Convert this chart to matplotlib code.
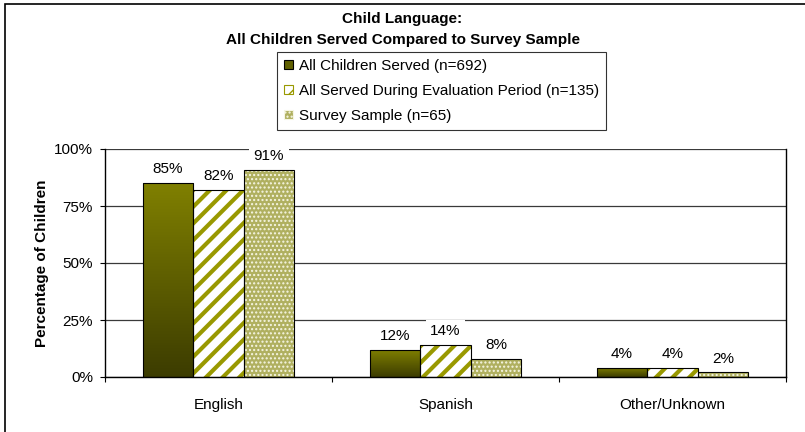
import matplotlib.pyplot as plt
import numpy as np
from matplotlib.colors import LinearSegmentedColormap
from matplotlib.patches import Rectangle

plt.rcParams['font.family'] = ['Liberation Sans', 'DejaVu Sans']
plt.rcParams['hatch.linewidth'] = 3.0

categories = ['English', 'Spanish', 'Other/Unknown']
all_served = [85, 12, 4]
eval_period = [82, 14, 4]
survey = [91, 8, 2]
series_names = ['All Children Served (n=692)',
                'All Served During Evaluation Period (n=135)',
                'Survey Sample (n=65)']

FS = 11
fig = plt.figure(figsize=(8.05, 4.32), dpi=100)
ax = fig.add_axes([105 / 805, 1 - 377 / 432, 681 / 805, 228 / 432])

x = np.arange(len(categories))
w = 0.222
olive_grad = LinearSegmentedColormap.from_list('olive', ['#3c3c00', '#808000'])

# solid series with a vertical dark-to-olive gradient
bars1 = ax.bar(x - w, all_served, w, color='none', edgecolor='black', lw=0.8, zorder=3)
grad = np.linspace(0, 1, 256).reshape(-1, 1)
for b in bars1:
    bx, by = b.get_x(), b.get_y()
    im = ax.imshow(grad, cmap=olive_grad, origin='lower', aspect='auto',
                   extent=[bx, bx + b.get_width(), by, by + b.get_height()], zorder=2)
    im.set_clip_path(b)

# striped series
ax.bar(x, eval_period, w, color='white', edgecolor='#999900', hatch='//', lw=0, zorder=2)
ax.bar(x, eval_period, w, color='none', edgecolor='black', lw=0.8, zorder=3)

# dotted series
plt.rcParams['hatch.linewidth'] = 1.0
ax.bar(x + w, survey, w, color='#b0b060', edgecolor='#f6f6e4', hatch='....', lw=0, zorder=2)
ax.bar(x + w, survey, w, color='none', edgecolor='black', lw=0.8, zorder=3)

for offs, vals in zip([-w, 0, w], [all_served, eval_period, survey]):
    for xi, v in zip(x, vals):
        ax.annotate(f'{v}%', (xi + offs, v), xytext=(0, 10), textcoords='offset points',
                    ha='center', va='center', fontsize=FS, zorder=5,
                    bbox=dict(boxstyle='square,pad=0.3', fc='white', ec='none'))

ax.set_xlim(-0.5, 2.5)
ax.set_ylim(0, 100)
ax.set_yticks([0, 25, 50, 75, 100])
ax.set_yticklabels([f'{t}%' for t in [0, 25, 50, 75, 100]], fontsize=FS)
ax.yaxis.grid(True, color='#3a3a3a', lw=0.9, zorder=0)
ax.set_axisbelow(True)

ax.set_xticks(x)
ax.set_xticklabels(categories, fontsize=FS)
ax.tick_params(axis='x', length=0, pad=15)
ax.set_xticks([-0.5, 0.5, 1.5, 2.5], minor=True)
ax.tick_params(axis='x', which='minor', length=3.6, direction='out', width=0.8)
ax.tick_params(axis='y', length=3.6, direction='out', width=0.8, pad=5)

ax.spines['top'].set_visible(False)
for s in ['right', 'left', 'bottom']:
    ax.spines[s].set_linewidth(1.0)

ax.set_ylabel('Percentage of Children', fontsize=FS, fontweight='bold', labelpad=4)

fig.text(0.5, 1 - 19 / 432, 'Child Language:', ha='center', va='center',
         fontsize=FS, fontweight='bold')
fig.text(0.5, 1 - 40 / 432, 'All Children Served Compared to Survey Sample',
         ha='center', va='center', fontsize=FS, fontweight='bold')

# legend built from proxy patches
handles = [
    Rectangle((0, 0), 1, 1, fc='#606000', ec='black', lw=0.8),
    Rectangle((0, 0), 1, 1, fc='white', ec='#999900', hatch='//', lw=0.8),
    Rectangle((0, 0), 1, 1, fc='#b0b060', ec='#f6f6e4', hatch='....', lw=0.8),
]
leg = fig.legend(handles, series_names, loc='upper left', bbox_to_anchor=(277 / 805, 1 - 52 / 432),
                 fontsize=FS, frameon=True, fancybox=False, edgecolor='black',
                 handlelength=0.6, handleheight=0.6, handletextpad=0.4,
                 borderpad=0.45, labelspacing=0.72, borderaxespad=0)
leg.get_frame().set_linewidth(0.8)

fig.patches.append(Rectangle((5 / 805, -0.05), 1.2, 1 - 4 / 432 + 0.05,
                             transform=fig.transFigure, fill=False, ec='black', lw=1.2))

fig.savefig('out.png', dpi=100)
